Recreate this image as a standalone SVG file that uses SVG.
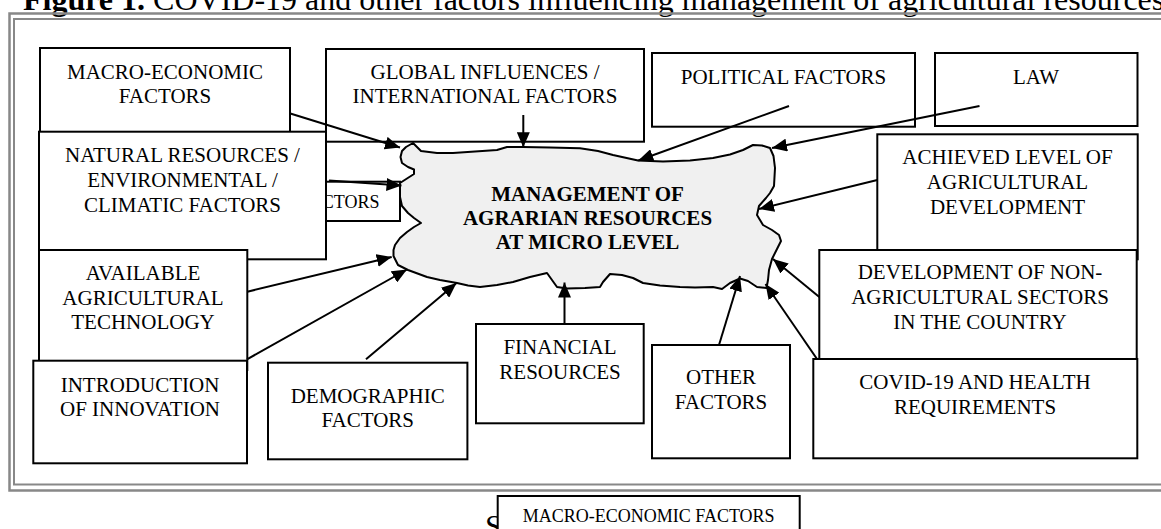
<svg xmlns="http://www.w3.org/2000/svg" width="1161" height="529" viewBox="0 0 1161 529">
  <defs>
    <style>
      .box { fill: #fff; stroke: #000; stroke-width: 2; }
      .t { font-family: "Liberation Serif", "Times New Roman", serif; font-size: 21px; text-anchor: middle; fill: #000; }
      .ts { font-family: "Liberation Serif", "Times New Roman", serif; font-size: 18px; fill: #000; }
      .tb { font-family: "Liberation Serif", "Times New Roman", serif; font-size: 21px; font-weight: bold; text-anchor: middle; fill: #000; }
      .title { font-family: "Liberation Serif", "Times New Roman", serif; font-size: 32px; fill: #000; }
      .frame { fill: none; stroke: #888; }
      .arrow { stroke: #000; stroke-width: 2; fill: none; marker-end: url(#ah); }
    </style>
    <marker id="ah" viewBox="0 0 15 13" refX="15" refY="6.5" markerWidth="15" markerHeight="13" markerUnits="userSpaceOnUse" orient="auto">
      <path d="M0,0 L15,6.5 L0,13 Z" fill="#000"/>
    </marker>
  </defs>

  <rect width="1161" height="529" fill="#fff"/>

  <!-- caption -->
  <text class="title" x="23" y="10"><tspan font-weight="bold">Figure 1.</tspan> COVID-19 and other factors influencing management of agricultural resources</text>

  <!-- double border -->
  <path class="frame" stroke-width="2.5" d="M1170,13.5 H9.5 V490.5 H1170"/>
  <path class="frame" stroke-width="2" d="M1170,19 H14 V484.5 H1170"/>

  <!-- factor boxes -->
  <g id="macro">
    <rect class="box" x="40" y="48" width="250" height="90"/>
    <text class="t" x="165" y="79">MACRO-ECONOMIC</text>
    <text class="t" x="165" y="103">FACTORS</text>
  </g>
  <g id="global">
    <rect class="box" x="326" y="49" width="318" height="92.7"/>
    <text class="t" x="485" y="79">GLOBAL INFLUENCES /</text>
    <text class="t" x="485" y="103">INTERNATIONAL FACTORS</text>
  </g>
  <g id="political">
    <rect class="box" x="652" y="53" width="263" height="73.7"/>
    <text class="t" x="783.5" y="84">POLITICAL FACTORS</text>
  </g>
  <g id="law">
    <rect class="box" x="935" y="53" width="202.5" height="73"/>
    <text class="t" x="1036" y="84">LAW</text>
  </g>
  <g id="hidden-factors">
    <rect class="box" x="300" y="181.7" width="100" height="39.3"/>
    <text class="ts" x="379.5" y="208.3" text-anchor="end">CTORS</text>
  </g>
  <g id="natural">
    <rect class="box" x="39" y="131.7" width="287" height="127.6"/>
    <text class="t" x="182.5" y="162">NATURAL RESOURCES /</text>
    <text class="t" x="182.5" y="187">ENVIRONMENTAL /</text>
    <text class="t" x="182.5" y="211.5">CLIMATIC FACTORS</text>
  </g>
  <g id="technology">
    <rect class="box" x="39" y="250" width="208.3" height="120"/>
    <text class="t" x="143" y="280">AVAILABLE</text>
    <text class="t" x="143" y="304.5">AGRICULTURAL</text>
    <text class="t" x="143" y="329">TECHNOLOGY</text>
  </g>
  <g id="innovation">
    <rect class="box" x="33.3" y="360.7" width="213.7" height="102.6"/>
    <text class="t" x="140" y="391.5">INTRODUCTION</text>
    <text class="t" x="140" y="416">OF INNOVATION</text>
  </g>
  <g id="demographic">
    <rect class="box" x="268" y="362.7" width="199.4" height="96.6"/>
    <text class="t" x="367.7" y="402.5">DEMOGRAPHIC</text>
    <text class="t" x="367.7" y="427">FACTORS</text>
  </g>
  <g id="financial">
    <rect class="box" x="476" y="324" width="167.7" height="99.3"/>
    <text class="t" x="560" y="354">FINANCIAL</text>
    <text class="t" x="560" y="378.5">RESOURCES</text>
  </g>
  <g id="other">
    <rect class="box" x="652" y="345" width="138" height="113.3"/>
    <text class="t" x="721" y="383.5">OTHER</text>
    <text class="t" x="721" y="408.5">FACTORS</text>
  </g>
  <g id="achieved">
    <rect class="box" x="877.3" y="134.3" width="260.4" height="125"/>
    <text class="t" x="1007.5" y="164">ACHIEVED LEVEL OF</text>
    <text class="t" x="1007.5" y="189">AGRICULTURAL</text>
    <text class="t" x="1007.5" y="213.5">DEVELOPMENT</text>
  </g>
  <g id="non-agricultural">
    <rect class="box" x="819.3" y="250" width="317.4" height="115"/>
    <text class="t" x="980" y="278.5">DEVELOPMENT OF NON-</text>
    <text class="t" x="980" y="304">AGRICULTURAL SECTORS</text>
    <text class="t" x="980" y="329">IN THE COUNTRY</text>
  </g>
  <g id="covid">
    <rect class="box" x="813.3" y="359" width="324" height="99.3"/>
    <text class="t" x="975" y="389">COVID-19 AND HEALTH</text>
    <text class="t" x="975" y="414">REQUIREMENTS</text>
  </g>

  <!-- central cloud -->
  <g id="management">
    <path fill="#f0f0f0" stroke="#000" stroke-width="2" stroke-linejoin="round"
      d="M413,143 L421,151 L437,153 L453,153 L475,151.5 L497,150 L507,147 L523,147 L550,147.5 L580,148.3 L598,151 L613,155 L638,160.5 L663,161.5 L690,160.5 L713,158 L730,154.5 L743,150 L753,145 L762,145.5 L770,148 L773.5,156 L775,168 L774,186 L770,193 L766,198 L759,206 L757,215 L763,225 L772,230 L779,235 L781,241 L777,249 L772,259 L769,270 L768,280 L766.5,288 L757,287 L748,281 L740,278.5 L730,283 L722,289 L713,287 L695,287.5 L680,287 L660,285.5 L643,283 L633,278 L622,275 L610,274 L603,282 L600,287 L585,288 L567,288.5 L557,287 L552,280 L547,273 L530,277 L513,282 L497,285 L480,287 L468,285.5 L457,283 L440,280 L427,277 L408,270 L398,265 L393.5,256 L393.5,250 L395,245 L400,238 L407,232 L414,227 L421,223 L414,218 L408,213 L402,206 L400,197 L400,183 L407,178.5 L414,174 L414,169.5 L408,167 L402,163 L400.5,157 L402,151 L406,147 Z"/>
    <text class="tb" x="587.5" y="200.7">MANAGEMENT OF</text>
    <text class="tb" x="587.5" y="225">AGRARIAN RESOURCES</text>
    <text class="tb" x="587.5" y="249.3">AT MICRO LEVEL</text>
  </g>

  <!-- influence arrows -->
  <g id="connectors">
    <line class="arrow" x1="289.5" y1="113.3" x2="400" y2="147.5"/>
    <line class="arrow" x1="523.3" y1="115" x2="523.3" y2="147.3"/>
    <line class="arrow" x1="329" y1="180.5" x2="401.5" y2="185.5"/>
    <line class="arrow" x1="789" y1="106" x2="638.3" y2="160.5"/>
    <line class="arrow" x1="979.5" y1="106" x2="772" y2="148"/>
    <line class="arrow" x1="877.3" y1="180" x2="759" y2="209"/>
    <line class="arrow" x1="819.3" y1="297" x2="773" y2="259"/>
    <line class="arrow" x1="817" y1="359" x2="765.5" y2="284"/>
    <line class="arrow" x1="719" y1="345" x2="740" y2="276"/>
    <line class="arrow" x1="564.5" y1="324" x2="564.5" y2="282.5"/>
    <line class="arrow" x1="366" y1="359.3" x2="456.5" y2="283"/>
    <line class="arrow" x1="247" y1="359.3" x2="407" y2="269.5"/>
    <line class="arrow" x1="247.3" y1="291.7" x2="391.7" y2="257"/>
  </g>

  <!-- source line below the figure -->
  <text class="title" x="485" y="537">S</text>
  <g id="macro-bottom">
    <rect class="box" x="497.7" y="496" width="302" height="60" stroke-width="1.8"/>
    <text class="ts" x="648.7" y="521.7" text-anchor="middle">MACRO-ECONOMIC FACTORS</text>
  </g>
</svg>
